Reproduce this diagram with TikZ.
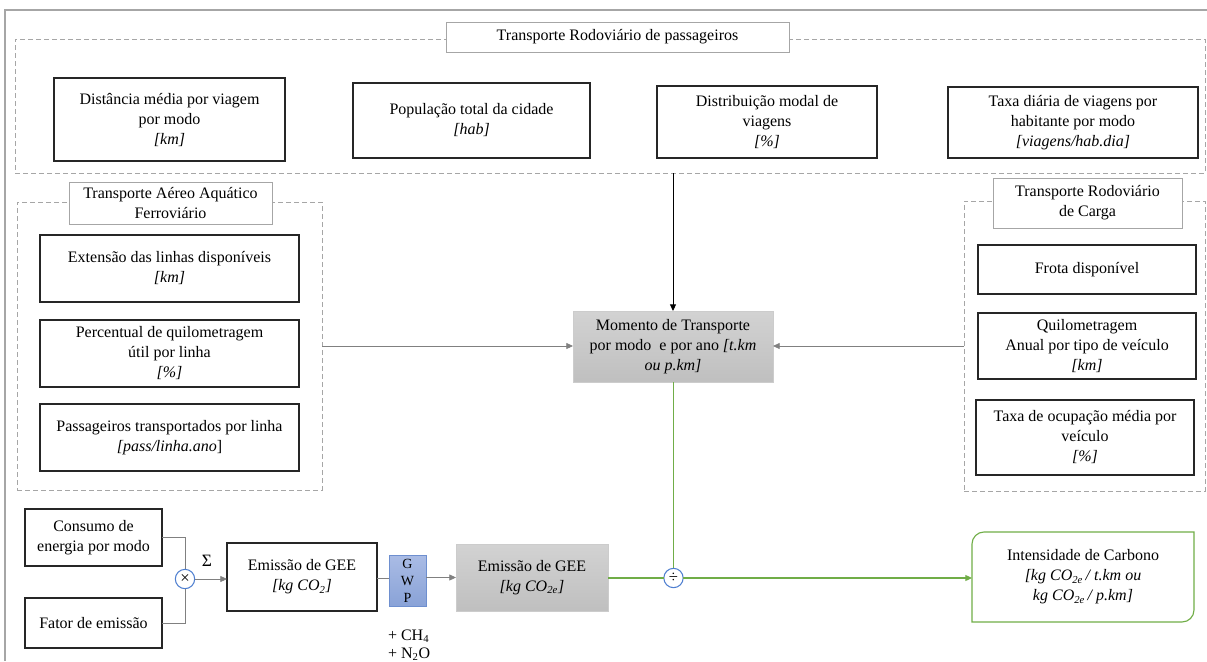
\documentclass[tikz,border=0pt]{standalone}
\usepackage{fontspec}
\setmainfont{Liberation Serif}
\newfontfamily\tnr{Liberation Serif}
\usetikzlibrary{arrows.meta}
\definecolor{grpc}{HTML}{A6A6A6}
\definecolor{linec}{HTML}{808080}
\definecolor{boxc}{HTML}{262626}
\definecolor{grn}{HTML}{70AD47}
\definecolor{circc}{HTML}{4F7FD0}
\definecolor{gwpb}{HTML}{6E8FCF}
\newcommand\bx[7]{\node[#6, minimum width={(#4-#2)*0.75pt}, minimum height={(#5-#3)*0.75pt}] (#1) at ({(#2+#4)/2},{(#3+#5)/2}) {#7};}
\begin{document}
\begin{tikzpicture}[x=0.75pt,y=-0.75pt,
  every node/.style={inner sep=0pt, outer sep=0pt, align=center, font=\tnr\fontsize{12}{15}\selectfont},
  grpbox/.style={draw=grpc, line width=0.6pt, dash pattern=on 3.5pt off 2.5pt},
  titlebox/.style={draw=grpc, line width=0.7pt, fill=white},
  blkbox/.style={draw=boxc, line width=0.9pt, fill=white},
  graybox/.style={draw=gray!40, line width=0.5pt, top color=gray!35, bottom color=gray!50},
  gwpbox/.style={draw=gwpb, line width=0.6pt, top color={rgb,255:red,170;green,188;blue,229}, bottom color={rgb,255:red,137;green,162;blue,215}, font=\tnr\fontsize{10.5}{12.8}\selectfont},
  circ/.style={circle, draw=circc, line width=0.8pt, fill=white, minimum size=14.5pt, font=\tnr\fontsize{12.5}{13}\selectfont},
  conn/.style={draw=linec, line width=0.6pt},
  arr/.style={-{Triangle[length=5pt,width=4.5pt]}},
  gconn/.style={draw=grn, line width=0.85pt}
]
\useasboundingbox (0,0) rectangle (1207,661);
% outer frame
\coordinate (fbl) at (5,661);
\coordinate (ftl) at (5,10);
\coordinate (ftr) at (1207,10);
\draw[draw=grpc, line width=0.8pt] (fbl) -- (ftl) -- (ftr);

% groups
\bx{gtop}{15}{39}{1205}{173}{grpbox}{}
\bx{gleft}{17}{202}{322}{490}{grpbox}{}
\bx{gright}{964}{201}{1205}{491}{grpbox}{}

% titles
\bx{ttop}{446}{22}{789}{52}{titlebox}{Transporte Rodoviário de passageiros}
\bx{tleft}{69}{182}{272}{224}{titlebox}{Transporte Aéreo Aquático\\Ferroviário}
\bx{tright}{993}{178}{1182}{228}{titlebox}{Transporte Rodoviário\\de Carga}

% top boxes
\bx{dist}{54}{78}{285}{161}{blkbox}{Distância média por viagem\\por modo\\\textit{[km]}}
\bx{pop}{353}{83}{590}{158}{blkbox}{População total da cidade\\\textit{[hab]}}
\bx{modal}{657}{86}{877}{158}{blkbox}{Distribuição modal de\\viagens\\\textit{[\%]}}
\bx{taxa}{948}{87}{1198}{158}{blkbox}{Taxa diária de viagens por\\habitante por modo\\\textit{[viagens/hab.dia]}}

% left boxes
\bx{ext}{40}{235}{299}{302}{blkbox}{Extensão das linhas disponíveis\\\textit{[km]}}
\bx{perc}{40}{320}{299}{387}{blkbox}{Percentual de quilometragem\\útil por linha\\\textit{[\%]}}
\bx{pass}{40}{404}{299}{471}{blkbox}{Passageiros transportados por linha\\\textit{[pass/linha.ano}]}

% right boxes
\bx{frota}{978}{245}{1196}{294}{blkbox}{Frota disponível}
\bx{quilo}{978}{313}{1196}{379}{blkbox}{Quilometragem\\Anual por tipo de veículo\\\textit{[km]}}
\bx{ocup}{976}{400}{1194}{475}{blkbox}{Taxa de ocupação média por\\veículo\\\textit{[\%]}}

% centre
\bx{mom}{573}{311}{773}{382}{graybox}{Momento de Transporte\\por modo\ \ e por ano \textit{[t.km}\\\textit{ou p.km]}}

% bottom chain
\bx{cons}{25}{509}{162}{566}{blkbox}{Consumo de\\energia por modo}
\bx{fat}{25}{598}{162}{648}{blkbox}{Fator de emissão}
\node[circ] (mul) at (185,579) {×};
\node[font=\tnr\fontsize{13}{15}\selectfont] (sig) at (207,561) {Σ};
\bx{em1}{227}{543}{377}{611}{blkbox}{Emissão de GEE\\\textit{[kg CO\textsubscript{2}]}}
\bx{gwp}{389}{555}{426}{606}{gwpbox}{G\\W\\P}
\node[anchor=west] (ch4) at (388,636) {+ CH\textsubscript{4}};
\node[anchor=west] (n2o) at (388,654) {+ N\textsubscript{2}O};
\bx{em2}{456}{544}{608}{611}{graybox}{Emissão de GEE\\\textit{[kg CO\textsubscript{2e}]}}
\node[circ] (div) at (673.5,578) {÷};
\bx{int}{972}{532}{1194}{622}{}{Intensidade de Carbono\\\textit{[kg CO\textsubscript{2e}\,/ t.km ou}\\\textit{kg CO\textsubscript{2e}\,/ p.km]}}
\draw[gconn] (int.south west) -- ([yshift=-9pt]int.north west) arc[start angle=180,end angle=90,radius=9pt] -- (int.north east) -- ([yshift=9pt]int.south east) arc[start angle=0,end angle=-90,radius=9pt] -- cycle;

% connectors
\draw[draw=black, line width=0.7pt, arr] (mom.north |- gtop.south) -- (mom.north);
\draw[conn, arr] (gleft.east) -- (gleft.east -| mom.west);
\draw[conn, arr] (gright.west) -- (gright.west -| mom.east);
\draw[conn] (cons.east |- 0,537) -- (mul.north |- 0,537) -- (mul.north);
\draw[conn] (fat.east |- 0,623) -- (mul.south |- 0,623) -- (mul.south);
\draw[conn, arr] (mul.east) -- (mul.east -| em1.west);
\draw[conn] (em1.east |- 0,578) -- (gwp.west |- 0,578);
\draw[conn, arr] (gwp.east |- em2.west) -- (em2.west);
\draw[gconn] (em2.east |- div.west) -- (div.west);
\draw[gconn, line width=1.1pt] (div.north |- mom.south) -- (div.north);
\draw[gconn, -{Triangle[length=5pt,width=4.5pt]}, fill=grn] (div.east) -- (div.east -| int.west);
\end{tikzpicture}
\end{document}
